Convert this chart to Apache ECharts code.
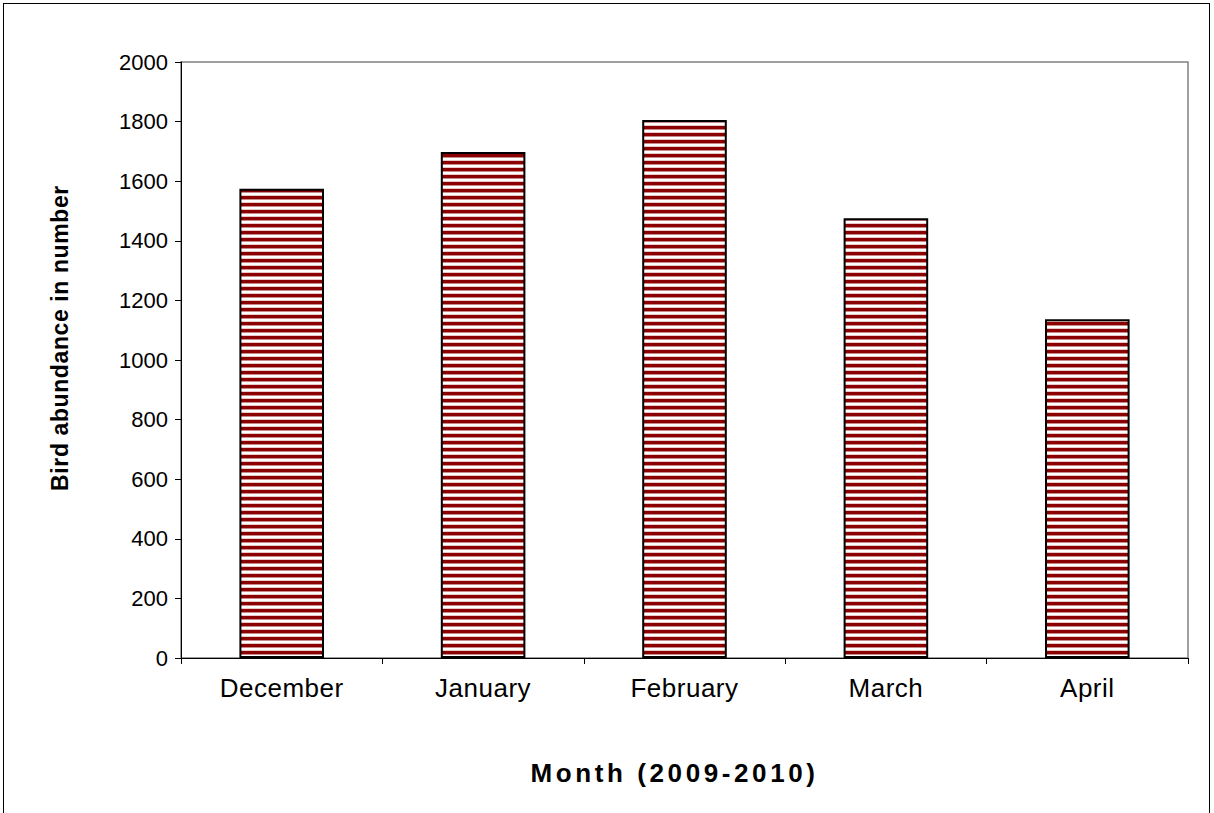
<!DOCTYPE html>
<html><head><meta charset="utf-8">
<script src="https://cdn.jsdelivr.net/npm/echarts@6/dist/echarts.min.js"></script>
<style>
html,body{margin:0;padding:0;background:#fff;}
#frame{position:absolute;left:3px;top:3px;width:1207px;height:820px;border:1px solid #000;box-sizing:border-box;}
#chart{position:absolute;left:0;top:0;width:1214px;height:813px;}
</style></head>
<body>
<div id="frame"></div>
<div id="chart"></div>
<script>
const categories = ['December','January','February','March','April'];
const values = [1575, 1698, 1805, 1476, 1137];
const yTicks = [0,200,400,600,800,1000,1200,1400,1600,1800,2000];
const xTitle = 'Month (2009-2010)';
const yTitle = 'Bird abundance in number';

const pc = document.createElement('canvas');
pc.width = 4; pc.height = 7;
const g = pc.getContext('2d');
g.fillStyle = '#ffffff'; g.fillRect(0,0,4,7);
g.fillStyle = '#8b0000'; g.fillRect(0,0,4,3);
g.fillStyle = '#c98a8a'; g.fillRect(0,3,4,1);
g.fillStyle = '#e8c8c8'; g.fillRect(0,6,4,1);

const chart = echarts.init(document.getElementById('chart'), null, {renderer:'svg'});
chart.setOption({
  animation:false,
  backgroundColor:'transparent',
  grid:{left:181,right:26,top:62,bottom:155,show:true,borderColor:'#808080',borderWidth:1.5,containLabel:false},
  xAxis:{
    type:'category', data:categories,
    name:xTitle, nameLocation:'middle', nameGap:102,
    nameTextStyle:{fontFamily:'Liberation Sans, Arial',fontWeight:'bold',fontSize:26,color:'#000',padding:[0,20,0,0]},
    axisLine:{lineStyle:{color:'#000',width:1}},
    axisTick:{show:true,alignWithLabel:false,length:6,lineStyle:{color:'#000'}},
    axisLabel:{fontFamily:'Liberation Sans, Arial',fontSize:26,color:'#000',margin:17}
  },
  yAxis:{
    type:'value', min:yTicks[0], max:yTicks[yTicks.length-1], interval:200,
    name:yTitle, nameLocation:'middle', nameGap:110,
    nameTextStyle:{fontFamily:'Liberation Sans, Arial',fontWeight:'bold',fontSize:23,color:'#000',padding:[0,0,0,44]},
    axisLine:{show:true,lineStyle:{color:'#000',width:1}},
    axisTick:{show:true,length:6,lineStyle:{color:'#000'}},
    axisLabel:{fontFamily:'Liberation Sans, Arial',fontSize:22,color:'#000',margin:13,formatter:v=>String(v)},
    splitLine:{show:false}
  },
  series:[{
    type:'bar', data:values, barWidth:'42%',
    itemStyle:{color:{image:pc,repeat:'repeat'},borderColor:'#000',borderWidth:2}
  }]
});

function space(){
  document.querySelectorAll('#chart text').forEach(t=>{
    const s = t.textContent;
    if (categories.indexOf(s) >= 0) t.style.letterSpacing = '0.5px';
    else if (s === xTitle) t.style.letterSpacing = '3.6px';
    else if (s === yTitle) t.style.letterSpacing = '0.6px';
  });
}
space();
chart.on('finished', space);
setTimeout(space, 50);
</script>
</body></html>
